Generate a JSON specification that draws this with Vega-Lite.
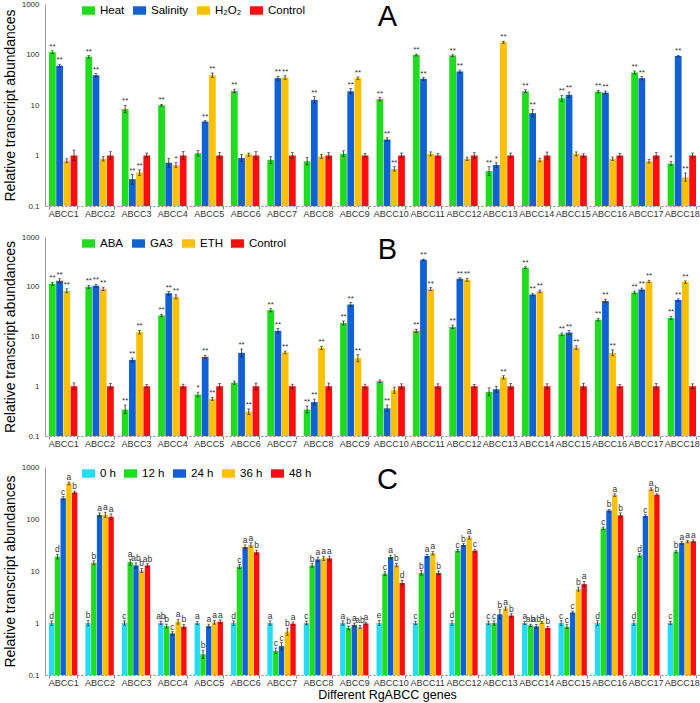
{
"$schema":"https://vega.github.io/schema/vega-lite/v6.json",
"padding":{"left":3,"top":0,"right":0,"bottom":2},
"config":{"view":{"stroke":null},"font":"Liberation Sans",
 "axisY":{"domainColor":"#999","ticks":false,"tickSize":0,"labelFontSize":8,"labelColor":"#333","labelPadding":6,"titleFontSize":14,"titleFontWeight":"normal","titleColor":"#000","titlePadding":4,"grid":false},
 "axisX":{"domainColor":"#888","domainDash":[2,2],"tickColor":"#888","tickSize":3,"tickBand":"extent","labelFontSize":9,"labelColor":"#333","labelPadding":0,"labelAngle":0,"titleFontSize":12.5,"titleFontWeight":"normal","titleColor":"#000","titlePadding":1},
 "legend":{"orient":"none","direction":"horizontal","legendX":37,"legendY":0,"title":null,"symbolType":"M-1,-0.65H1V0.65H-1Z","symbolSize":169,"symbolStrokeWidth":0,"labelFontSize":11.5,"labelColor":"#000","labelOffset":5,"columnPadding":8},
 "title":{"fontSize":29,"fontWeight":"normal","anchor":"middle","frame":"group","offset":-32,"dx":15,"color":"#000"}
},
"datasets":{
"A":[
{"g":"ABCC1","t":"Heat","v":111,"lo":104,"hi":118,"s":"**"},{"g":"ABCC1","t":"Salinity","v":60,"lo":56,"hi":64,"s":"**"},{"g":"ABCC1","t":"H₂O₂","v":0.79,"lo":0.72,"hi":0.86,"s":""},{"g":"ABCC1","t":"Control","v":1,"lo":0.78,"hi":1.28,"s":""},
{"g":"ABCC2","t":"Heat","v":90,"lo":85,"hi":95,"s":"**"},{"g":"ABCC2","t":"Salinity","v":39,"lo":36,"hi":42,"s":"**"},{"g":"ABCC2","t":"H₂O₂","v":0.86,"lo":0.78,"hi":0.95,"s":""},{"g":"ABCC2","t":"Control","v":1,"lo":0.84,"hi":1.19,"s":""},
{"g":"ABCC3","t":"Heat","v":8.3,"lo":7.0,"hi":9.8,"s":"**"},{"g":"ABCC3","t":"Salinity","v":0.34,"lo":0.27,"hi":0.42,"s":"**"},{"g":"ABCC3","t":"H₂O₂","v":0.46,"lo":0.4,"hi":0.52,"s":"**"},{"g":"ABCC3","t":"Control","v":1,"lo":0.9,"hi":1.12,"s":""},
{"g":"ABCC4","t":"Heat","v":9.9,"lo":9.5,"hi":10.3,"s":"**"},{"g":"ABCC4","t":"Salinity","v":0.72,"lo":0.58,"hi":0.88,"s":""},{"g":"ABCC4","t":"H₂O₂","v":0.65,"lo":0.58,"hi":0.72,"s":"*"},{"g":"ABCC4","t":"Control","v":1,"lo":0.83,"hi":1.2,"s":""},
{"g":"ABCC5","t":"Heat","v":1.11,"lo":0.98,"hi":1.25,"s":""},{"g":"ABCC5","t":"Salinity","v":4.7,"lo":4.5,"hi":4.9,"s":"**"},{"g":"ABCC5","t":"H₂O₂","v":39,"lo":35,"hi":43,"s":"**"},{"g":"ABCC5","t":"Control","v":1,"lo":0.88,"hi":1.14,"s":""},
{"g":"ABCC6","t":"Heat","v":19,"lo":17.5,"hi":20.5,"s":"**"},{"g":"ABCC6","t":"Salinity","v":0.89,"lo":0.76,"hi":1.04,"s":""},{"g":"ABCC6","t":"H₂O₂","v":1.05,"lo":0.97,"hi":1.12,"s":""},{"g":"ABCC6","t":"Control","v":1,"lo":0.84,"hi":1.19,"s":""},
{"g":"ABCC7","t":"Heat","v":0.82,"lo":0.69,"hi":0.96,"s":""},{"g":"ABCC7","t":"Salinity","v":34,"lo":31,"hi":37,"s":"**"},{"g":"ABCC7","t":"H₂O₂","v":35,"lo":32,"hi":38,"s":"**"},{"g":"ABCC7","t":"Control","v":1,"lo":0.88,"hi":1.14,"s":""},
{"g":"ABCC8","t":"Heat","v":0.77,"lo":0.65,"hi":0.91,"s":""},{"g":"ABCC8","t":"Salinity","v":12.6,"lo":10.8,"hi":14.7,"s":"**"},{"g":"ABCC8","t":"H₂O₂","v":0.96,"lo":0.88,"hi":1.05,"s":""},{"g":"ABCC8","t":"Control","v":1,"lo":0.88,"hi":1.14,"s":""},
{"g":"ABCC9","t":"Heat","v":1.08,"lo":0.95,"hi":1.24,"s":""},{"g":"ABCC9","t":"Salinity","v":18.7,"lo":16.5,"hi":21.2,"s":"**"},{"g":"ABCC9","t":"H₂O₂","v":34,"lo":32,"hi":36,"s":"**"},{"g":"ABCC9","t":"Control","v":1,"lo":0.92,"hi":1.09,"s":""},
{"g":"ABCC10","t":"Heat","v":13,"lo":12,"hi":14,"s":"**"},{"g":"ABCC10","t":"Salinity","v":2.07,"lo":1.9,"hi":2.25,"s":"**"},{"g":"ABCC10","t":"H₂O₂","v":0.54,"lo":0.49,"hi":0.6,"s":"**"},{"g":"ABCC10","t":"Control","v":1,"lo":0.9,"hi":1.12,"s":""},
{"g":"ABCC11","t":"Heat","v":98,"lo":94,"hi":102,"s":"**"},{"g":"ABCC11","t":"Salinity","v":33,"lo":31,"hi":35,"s":"**"},{"g":"ABCC11","t":"H₂O₂","v":1.08,"lo":0.98,"hi":1.18,"s":""},{"g":"ABCC11","t":"Control","v":1,"lo":0.92,"hi":1.09,"s":""},
{"g":"ABCC12","t":"Heat","v":95,"lo":91,"hi":99,"s":"**"},{"g":"ABCC12","t":"Salinity","v":46,"lo":43,"hi":49,"s":"**"},{"g":"ABCC12","t":"H₂O₂","v":0.86,"lo":0.8,"hi":0.93,"s":""},{"g":"ABCC12","t":"Control","v":1,"lo":0.88,"hi":1.14,"s":""},
{"g":"ABCC13","t":"Heat","v":0.49,"lo":0.4,"hi":0.6,"s":"**"},{"g":"ABCC13","t":"Salinity","v":0.65,"lo":0.58,"hi":0.72,"s":"*"},{"g":"ABCC13","t":"H₂O₂","v":175,"lo":167,"hi":183,"s":"**"},{"g":"ABCC13","t":"Control","v":1,"lo":0.9,"hi":1.12,"s":""},
{"g":"ABCC14","t":"Heat","v":18.7,"lo":17.5,"hi":20,"s":"**"},{"g":"ABCC14","t":"Salinity","v":6.9,"lo":5.8,"hi":8.2,"s":"**"},{"g":"ABCC14","t":"H₂O₂","v":0.81,"lo":0.75,"hi":0.88,"s":""},{"g":"ABCC14","t":"Control","v":1,"lo":0.85,"hi":1.17,"s":""},
{"g":"ABCC15","t":"Heat","v":13.6,"lo":11.8,"hi":15.6,"s":"**"},{"g":"ABCC15","t":"Salinity","v":15.9,"lo":14,"hi":18,"s":"**"},{"g":"ABCC15","t":"H₂O₂","v":1.08,"lo":0.98,"hi":1.18,"s":""},{"g":"ABCC15","t":"Control","v":1,"lo":0.93,"hi":1.08,"s":""},
{"g":"ABCC16","t":"Heat","v":18.4,"lo":17.4,"hi":19.4,"s":"**"},{"g":"ABCC16","t":"Salinity","v":17.6,"lo":16.4,"hi":18.9,"s":"**"},{"g":"ABCC16","t":"H₂O₂","v":0.86,"lo":0.8,"hi":0.93,"s":""},{"g":"ABCC16","t":"Control","v":1,"lo":0.92,"hi":1.09,"s":""},
{"g":"ABCC17","t":"Heat","v":44,"lo":41,"hi":47,"s":"**"},{"g":"ABCC17","t":"Salinity","v":34,"lo":31.5,"hi":36.5,"s":"**"},{"g":"ABCC17","t":"H₂O₂","v":0.77,"lo":0.71,"hi":0.84,"s":""},{"g":"ABCC17","t":"Control","v":1,"lo":0.88,"hi":1.14,"s":""},
{"g":"ABCC18","t":"Heat","v":0.69,"lo":0.63,"hi":0.76,"s":"*"},{"g":"ABCC18","t":"Salinity","v":93,"lo":90,"hi":96,"s":"**"},{"g":"ABCC18","t":"H₂O₂","v":0.37,"lo":0.31,"hi":0.45,"s":"**"},{"g":"ABCC18","t":"Control","v":1,"lo":0.9,"hi":1.12,"s":""}
],
"B":[
{"g":"ABCC1","t":"ABA","v":115,"lo":107,"hi":123,"s":"**"},{"g":"ABCC1","t":"GA3","v":132,"lo":120,"hi":145,"s":"**"},{"g":"ABCC1","t":"ETH","v":83,"lo":76,"hi":91,"s":"**"},{"g":"ABCC1","t":"Control","v":1,"lo":0.85,"hi":1.17,"s":""},
{"g":"ABCC2","t":"ABA","v":100,"lo":93,"hi":107,"s":"**"},{"g":"ABCC2","t":"GA3","v":105,"lo":98,"hi":112,"s":"**"},{"g":"ABCC2","t":"ETH","v":91,"lo":84,"hi":98,"s":"**"},{"g":"ABCC2","t":"Control","v":1,"lo":0.88,"hi":1.14,"s":""},
{"g":"ABCC3","t":"ABA","v":0.34,"lo":0.28,"hi":0.42,"s":"**"},{"g":"ABCC3","t":"GA3","v":3.4,"lo":3.1,"hi":3.7,"s":"**"},{"g":"ABCC3","t":"ETH","v":12.2,"lo":11.2,"hi":13.3,"s":"**"},{"g":"ABCC3","t":"Control","v":1,"lo":0.93,"hi":1.08,"s":""},
{"g":"ABCC4","t":"ABA","v":26.5,"lo":25,"hi":28,"s":"**"},{"g":"ABCC4","t":"GA3","v":74,"lo":68,"hi":80,"s":"**"},{"g":"ABCC4","t":"ETH","v":63,"lo":57,"hi":69,"s":"**"},{"g":"ABCC4","t":"Control","v":1,"lo":0.91,"hi":1.1,"s":""},
{"g":"ABCC5","t":"ABA","v":0.68,"lo":0.61,"hi":0.76,"s":"*"},{"g":"ABCC5","t":"GA3","v":3.9,"lo":3.6,"hi":4.2,"s":"**"},{"g":"ABCC5","t":"ETH","v":0.56,"lo":0.52,"hi":0.6,"s":"**"},{"g":"ABCC5","t":"Control","v":1,"lo":0.88,"hi":1.14,"s":""},
{"g":"ABCC6","t":"ABA","v":1.18,"lo":1.1,"hi":1.27,"s":""},{"g":"ABCC6","t":"GA3","v":4.7,"lo":3.9,"hi":5.6,"s":"**"},{"g":"ABCC6","t":"ETH","v":0.31,"lo":0.27,"hi":0.35,"s":"**"},{"g":"ABCC6","t":"Control","v":1,"lo":0.86,"hi":1.16,"s":""},
{"g":"ABCC7","t":"ABA","v":34,"lo":31.5,"hi":36.5,"s":"**"},{"g":"ABCC7","t":"GA3","v":13,"lo":11.7,"hi":14.4,"s":"**"},{"g":"ABCC7","t":"ETH","v":4.8,"lo":4.5,"hi":5.1,"s":"**"},{"g":"ABCC7","t":"Control","v":1,"lo":0.91,"hi":1.1,"s":""},
{"g":"ABCC8","t":"ABA","v":0.34,"lo":0.29,"hi":0.4,"s":"**"},{"g":"ABCC8","t":"GA3","v":0.48,"lo":0.42,"hi":0.55,"s":"**"},{"g":"ABCC8","t":"ETH","v":5.9,"lo":5.5,"hi":6.3,"s":"**"},{"g":"ABCC8","t":"Control","v":1,"lo":0.86,"hi":1.16,"s":""},
{"g":"ABCC9","t":"ABA","v":18.7,"lo":17,"hi":20.5,"s":"**"},{"g":"ABCC9","t":"GA3","v":44,"lo":40,"hi":48,"s":"**"},{"g":"ABCC9","t":"ETH","v":3.66,"lo":3.1,"hi":4.3,"s":"**"},{"g":"ABCC9","t":"Control","v":1,"lo":0.91,"hi":1.1,"s":""},
{"g":"ABCC10","t":"ABA","v":1.26,"lo":1.18,"hi":1.34,"s":""},{"g":"ABCC10","t":"GA3","v":0.36,"lo":0.31,"hi":0.42,"s":"**"},{"g":"ABCC10","t":"ETH","v":0.83,"lo":0.72,"hi":0.96,"s":""},{"g":"ABCC10","t":"Control","v":1,"lo":0.9,"hi":1.12,"s":""},
{"g":"ABCC11","t":"ABA","v":13,"lo":12,"hi":14,"s":"**"},{"g":"ABCC11","t":"GA3","v":349,"lo":338,"hi":360,"s":"**"},{"g":"ABCC11","t":"ETH","v":90,"lo":84,"hi":96,"s":"**"},{"g":"ABCC11","t":"Control","v":1,"lo":0.89,"hi":1.12,"s":""},
{"g":"ABCC12","t":"ABA","v":15.6,"lo":14.4,"hi":16.9,"s":"**"},{"g":"ABCC12","t":"GA3","v":144,"lo":136,"hi":152,"s":"**"},{"g":"ABCC12","t":"ETH","v":138,"lo":128,"hi":148,"s":"**"},{"g":"ABCC12","t":"Control","v":1,"lo":0.92,"hi":1.09,"s":""},
{"g":"ABCC13","t":"ABA","v":0.77,"lo":0.64,"hi":0.93,"s":""},{"g":"ABCC13","t":"GA3","v":0.87,"lo":0.76,"hi":1.0,"s":""},{"g":"ABCC13","t":"ETH","v":1.51,"lo":1.4,"hi":1.63,"s":"**"},{"g":"ABCC13","t":"Control","v":1,"lo":0.88,"hi":1.14,"s":""},
{"g":"ABCC14","t":"ABA","v":242,"lo":232,"hi":252,"s":"**"},{"g":"ABCC14","t":"GA3","v":70,"lo":66,"hi":74,"s":"**"},{"g":"ABCC14","t":"ETH","v":81,"lo":76,"hi":86,"s":"**"},{"g":"ABCC14","t":"Control","v":1,"lo":0.89,"hi":1.12,"s":""},
{"g":"ABCC15","t":"ABA","v":11.1,"lo":10.4,"hi":11.8,"s":"**"},{"g":"ABCC15","t":"GA3","v":12,"lo":10.9,"hi":13.2,"s":"**"},{"g":"ABCC15","t":"ETH","v":6.0,"lo":5.5,"hi":6.5,"s":"**"},{"g":"ABCC15","t":"Control","v":1,"lo":0.87,"hi":1.15,"s":""},
{"g":"ABCC16","t":"ABA","v":21.8,"lo":20.5,"hi":23.2,"s":"**"},{"g":"ABCC16","t":"GA3","v":52,"lo":48,"hi":56,"s":"**"},{"g":"ABCC16","t":"ETH","v":4.7,"lo":4.1,"hi":5.4,"s":"**"},{"g":"ABCC16","t":"Control","v":1,"lo":0.92,"hi":1.09,"s":""},
{"g":"ABCC17","t":"ABA","v":77,"lo":72,"hi":82,"s":"**"},{"g":"ABCC17","t":"GA3","v":88,"lo":82,"hi":94,"s":"**"},{"g":"ABCC17","t":"ETH","v":128,"lo":121,"hi":135,"s":"**"},{"g":"ABCC17","t":"Control","v":1,"lo":0.88,"hi":1.14,"s":""},
{"g":"ABCC18","t":"ABA","v":23.5,"lo":21.8,"hi":25.3,"s":"**"},{"g":"ABCC18","t":"GA3","v":54,"lo":51,"hi":57,"s":"**"},{"g":"ABCC18","t":"ETH","v":124,"lo":117,"hi":131,"s":"**"},{"g":"ABCC18","t":"Control","v":1,"lo":0.9,"hi":1.12,"s":""}
],
"C":[
{"g":"ABCC1","t":"0 h","v":1,"lo":0.9,"hi":1.1,"s":"d"},{"g":"ABCC1","t":"12 h","v":19,"lo":17,"hi":21,"s":"d"},{"g":"ABCC1","t":"24 h","v":252,"lo":235,"hi":270,"s":"c"},{"g":"ABCC1","t":"36 h","v":485,"lo":455,"hi":515,"s":"a"},{"g":"ABCC1","t":"48 h","v":325,"lo":305,"hi":345,"s":"b"},
{"g":"ABCC2","t":"0 h","v":1,"lo":0.88,"hi":1.13,"s":"b"},{"g":"ABCC2","t":"12 h","v":14.4,"lo":13.2,"hi":15.7,"s":"b"},{"g":"ABCC2","t":"24 h","v":120,"lo":110,"hi":131,"s":"a"},{"g":"ABCC2","t":"36 h","v":121,"lo":108,"hi":135,"s":"a"},{"g":"ABCC2","t":"48 h","v":111,"lo":98,"hi":125,"s":"a"},
{"g":"ABCC3","t":"0 h","v":1,"lo":0.91,"hi":1.1,"s":"c"},{"g":"ABCC3","t":"12 h","v":14.8,"lo":12.9,"hi":16.9,"s":"a"},{"g":"ABCC3","t":"24 h","v":12.8,"lo":11.4,"hi":14.3,"s":"ab"},{"g":"ABCC3","t":"36 h","v":10.2,"lo":9.3,"hi":11.2,"s":"b"},{"g":"ABCC3","t":"48 h","v":12.8,"lo":11.9,"hi":13.8,"s":"ab"},
{"g":"ABCC4","t":"0 h","v":1,"lo":0.93,"hi":1.08,"s":"ab"},{"g":"ABCC4","t":"12 h","v":0.87,"lo":0.8,"hi":0.95,"s":"b"},{"g":"ABCC4","t":"24 h","v":0.63,"lo":0.58,"hi":0.68,"s":"c"},{"g":"ABCC4","t":"36 h","v":1.06,"lo":0.95,"hi":1.18,"s":"a"},{"g":"ABCC4","t":"48 h","v":0.85,"lo":0.77,"hi":0.94,"s":"b"},
{"g":"ABCC5","t":"0 h","v":1,"lo":0.93,"hi":1.08,"s":"a"},{"g":"ABCC5","t":"12 h","v":0.25,"lo":0.21,"hi":0.3,"s":"b"},{"g":"ABCC5","t":"24 h","v":0.87,"lo":0.8,"hi":0.95,"s":"a"},{"g":"ABCC5","t":"36 h","v":1.03,"lo":0.95,"hi":1.12,"s":"a"},{"g":"ABCC5","t":"48 h","v":1.06,"lo":0.97,"hi":1.15,"s":"a"},
{"g":"ABCC6","t":"0 h","v":1,"lo":0.9,"hi":1.1,"s":"d"},{"g":"ABCC6","t":"12 h","v":12.2,"lo":11.2,"hi":13.3,"s":"c"},{"g":"ABCC6","t":"24 h","v":29,"lo":26.5,"hi":31.7,"s":"a"},{"g":"ABCC6","t":"36 h","v":31.7,"lo":28.6,"hi":35,"s":"a"},{"g":"ABCC6","t":"48 h","v":23,"lo":21,"hi":25.2,"s":"b"},
{"g":"ABCC7","t":"0 h","v":1,"lo":0.91,"hi":1.1,"s":"a"},{"g":"ABCC7","t":"12 h","v":0.29,"lo":0.26,"hi":0.33,"s":"c"},{"g":"ABCC7","t":"24 h","v":0.36,"lo":0.3,"hi":0.42,"s":"c"},{"g":"ABCC7","t":"36 h","v":0.68,"lo":0.58,"hi":0.8,"s":"b"},{"g":"ABCC7","t":"48 h","v":0.97,"lo":0.9,"hi":1.05,"s":"a"},
{"g":"ABCC8","t":"0 h","v":1,"lo":0.92,"hi":1.09,"s":"c"},{"g":"ABCC8","t":"12 h","v":12.8,"lo":11.8,"hi":13.9,"s":"b"},{"g":"ABCC8","t":"24 h","v":16.7,"lo":15,"hi":18.5,"s":"a"},{"g":"ABCC8","t":"36 h","v":17.5,"lo":16,"hi":19.1,"s":"a"},{"g":"ABCC8","t":"48 h","v":17.5,"lo":15.9,"hi":19.3,"s":"a"},
{"g":"ABCC9","t":"0 h","v":1,"lo":0.91,"hi":1.1,"s":"a"},{"g":"ABCC9","t":"12 h","v":0.8,"lo":0.74,"hi":0.87,"s":"b"},{"g":"ABCC9","t":"24 h","v":0.92,"lo":0.85,"hi":1.0,"s":"a"},{"g":"ABCC9","t":"36 h","v":0.84,"lo":0.79,"hi":0.9,"s":"ab"},{"g":"ABCC9","t":"48 h","v":0.98,"lo":0.92,"hi":1.04,"s":"a"},
{"g":"ABCC10","t":"0 h","v":1,"lo":0.9,"hi":1.12,"s":"e"},{"g":"ABCC10","t":"12 h","v":8.9,"lo":8.2,"hi":9.7,"s":"c"},{"g":"ABCC10","t":"24 h","v":18.6,"lo":17.2,"hi":20.1,"s":"a"},{"g":"ABCC10","t":"36 h","v":13,"lo":12,"hi":14,"s":"b"},{"g":"ABCC10","t":"48 h","v":5.9,"lo":5.3,"hi":6.6,"s":"d"},
{"g":"ABCC11","t":"0 h","v":1,"lo":0.93,"hi":1.08,"s":"c"},{"g":"ABCC11","t":"12 h","v":9.2,"lo":8.3,"hi":10.2,"s":"b"},{"g":"ABCC11","t":"24 h","v":19.4,"lo":17.9,"hi":21,"s":"a"},{"g":"ABCC11","t":"36 h","v":22,"lo":20.3,"hi":23.8,"s":"a"},{"g":"ABCC11","t":"48 h","v":9.2,"lo":8.5,"hi":10,"s":"b"},
{"g":"ABCC12","t":"0 h","v":1,"lo":0.9,"hi":1.12,"s":"d"},{"g":"ABCC12","t":"12 h","v":24.6,"lo":23.4,"hi":25.9,"s":"c"},{"g":"ABCC12","t":"24 h","v":31.7,"lo":30,"hi":33.5,"s":"b"},{"g":"ABCC12","t":"36 h","v":44,"lo":41,"hi":47,"s":"a"},{"g":"ABCC12","t":"48 h","v":24.6,"lo":23,"hi":26.3,"s":"c"},
{"g":"ABCC13","t":"0 h","v":1,"lo":0.92,"hi":1.09,"s":"c"},{"g":"ABCC13","t":"12 h","v":1,"lo":0.91,"hi":1.1,"s":"c"},{"g":"ABCC13","t":"24 h","v":1.47,"lo":1.2,"hi":1.8,"s":"b"},{"g":"ABCC13","t":"36 h","v":1.9,"lo":1.77,"hi":2.04,"s":"a"},{"g":"ABCC13","t":"48 h","v":1.39,"lo":1.28,"hi":1.51,"s":"b"},
{"g":"ABCC14","t":"0 h","v":1,"lo":0.94,"hi":1.07,"s":"a"},{"g":"ABCC14","t":"12 h","v":0.9,"lo":0.85,"hi":0.95,"s":"ab"},{"g":"ABCC14","t":"24 h","v":0.86,"lo":0.79,"hi":0.94,"s":"ab"},{"g":"ABCC14","t":"36 h","v":1.03,"lo":0.98,"hi":1.08,"s":"a"},{"g":"ABCC14","t":"48 h","v":0.8,"lo":0.75,"hi":0.86,"s":"b"},
{"g":"ABCC15","t":"0 h","v":1,"lo":0.9,"hi":1.11,"s":"c"},{"g":"ABCC15","t":"12 h","v":0.85,"lo":0.78,"hi":0.93,"s":"c"},{"g":"ABCC15","t":"24 h","v":1.59,"lo":1.5,"hi":1.7,"s":"c"},{"g":"ABCC15","t":"36 h","v":4.5,"lo":4.1,"hi":4.9,"s":"b"},{"g":"ABCC15","t":"48 h","v":5.6,"lo":5.0,"hi":6.3,"s":"a"},
{"g":"ABCC16","t":"0 h","v":1,"lo":0.9,"hi":1.11,"s":"d"},{"g":"ABCC16","t":"12 h","v":66,"lo":62,"hi":70,"s":"c"},{"g":"ABCC16","t":"24 h","v":145,"lo":137,"hi":153,"s":"b"},{"g":"ABCC16","t":"36 h","v":288,"lo":272,"hi":305,"s":"a"},{"g":"ABCC16","t":"48 h","v":118,"lo":106,"hi":131,"s":"b"},
{"g":"ABCC17","t":"0 h","v":1,"lo":0.9,"hi":1.11,"s":"d"},{"g":"ABCC17","t":"12 h","v":20,"lo":18.5,"hi":21.6,"s":"d"},{"g":"ABCC17","t":"24 h","v":114,"lo":107,"hi":121,"s":"c"},{"g":"ABCC17","t":"36 h","v":377,"lo":356,"hi":398,"s":"a"},{"g":"ABCC17","t":"48 h","v":292,"lo":278,"hi":306,"s":"b"},
{"g":"ABCC18","t":"0 h","v":1,"lo":0.93,"hi":1.08,"s":"c"},{"g":"ABCC18","t":"12 h","v":23.6,"lo":22.2,"hi":25.1,"s":"b"},{"g":"ABCC18","t":"24 h","v":34.7,"lo":32.8,"hi":36.7,"s":"a"},{"g":"ABCC18","t":"36 h","v":36.8,"lo":34.8,"hi":38.9,"s":"a"},{"g":"ABCC18","t":"48 h","v":37.4,"lo":35.3,"hi":39.6,"s":"a"}
]
},
"bounds":"flush",
"spacing":31,
"resolve":{"scale":{"color":"independent","xOffset":"independent"},"legend":{"color":"independent"}},
"vconcat":[
 {"width":655,"height":202,"data":{"name":"A"},"title":{"text":"A"},
  "encoding":{
   "x":{"field":"g","type":"nominal","sort":["ABCC1","ABCC2","ABCC3","ABCC4","ABCC5","ABCC6","ABCC7","ABCC8","ABCC9","ABCC10","ABCC11","ABCC12","ABCC13","ABCC14","ABCC15","ABCC16","ABCC17","ABCC18"],"scale":{"paddingInner":0.22,"paddingOuter":0.11},"axis":{"title":null}},
   "xOffset":{"field":"t","type":"nominal","sort":["Heat","Salinity","H₂O₂","Control"],"scale":{"paddingInner":0.06}}
  },
  "layer":[
   {"mark":{"type":"bar"},"encoding":{"y":{"field":"v","type":"quantitative","stack":null,"scale":{"type":"log","domain":[0.1,1000]},"title":"Relative transcript abundances","axis":{"values":[0.1,1,10,100,1000],"format":"~g"}},"y2":{"datum":0.1},"color":{"field":"t","type":"nominal","sort":["Heat","Salinity","H₂O₂","Control"],"scale":{"domain":["Heat","Salinity","H₂O₂","Control"],"range":["#1fdc1f","#1060d6","#ffc000","#ff0d0d"]}}}},
   {"mark":{"type":"rule","color":"#222","strokeWidth":0.8},"encoding":{"y":{"field":"lo","type":"quantitative","title":"Relative transcript abundances"},"y2":{"field":"hi"}}},
   {"mark":{"type":"tick","color":"#222","size":3,"thickness":0.8},"encoding":{"y":{"field":"lo","type":"quantitative","title":"Relative transcript abundances"}}},
   {"mark":{"type":"tick","color":"#222","size":3,"thickness":0.8},"encoding":{"y":{"field":"hi","type":"quantitative","title":"Relative transcript abundances"}}},
   {"mark":{"type":"text","fontSize":8,"baseline":"bottom","dy":0,"color":"#333"},"encoding":{"y":{"field":"hi","type":"quantitative","title":"Relative transcript abundances"},"text":{"field":"s"}}}
  ]},
 {"width":655,"height":199,"data":{"name":"B"},"title":{"text":"B"},
  "encoding":{
   "x":{"field":"g","type":"nominal","sort":["ABCC1","ABCC2","ABCC3","ABCC4","ABCC5","ABCC6","ABCC7","ABCC8","ABCC9","ABCC10","ABCC11","ABCC12","ABCC13","ABCC14","ABCC15","ABCC16","ABCC17","ABCC18"],"scale":{"paddingInner":0.22,"paddingOuter":0.11},"axis":{"title":null}},
   "xOffset":{"field":"t","type":"nominal","sort":["ABA","GA3","ETH","Control"],"scale":{"paddingInner":0.06}}
  },
  "layer":[
   {"mark":{"type":"bar"},"encoding":{"y":{"field":"v","type":"quantitative","stack":null,"scale":{"type":"log","domain":[0.1,1000]},"title":"Relative transcript abundances","axis":{"values":[0.1,1,10,100,1000],"format":"~g"}},"y2":{"datum":0.1},"color":{"field":"t","type":"nominal","sort":["ABA","GA3","ETH","Control"],"scale":{"domain":["ABA","GA3","ETH","Control"],"range":["#1fdc1f","#1060d6","#ffc000","#ff0d0d"]}}}},
   {"mark":{"type":"rule","color":"#222","strokeWidth":0.8},"encoding":{"y":{"field":"lo","type":"quantitative","title":"Relative transcript abundances"},"y2":{"field":"hi"}}},
   {"mark":{"type":"tick","color":"#222","size":3,"thickness":0.8},"encoding":{"y":{"field":"lo","type":"quantitative","title":"Relative transcript abundances"}}},
   {"mark":{"type":"tick","color":"#222","size":3,"thickness":0.8},"encoding":{"y":{"field":"hi","type":"quantitative","title":"Relative transcript abundances"}}},
   {"mark":{"type":"text","fontSize":8,"baseline":"bottom","dy":0,"color":"#333"},"encoding":{"y":{"field":"hi","type":"quantitative","title":"Relative transcript abundances"},"text":{"field":"s"}}}
  ]},
 {"width":655,"height":208,"data":{"name":"C"},"title":{"text":"C"},
  "encoding":{
   "x":{"field":"g","type":"nominal","sort":["ABCC1","ABCC2","ABCC3","ABCC4","ABCC5","ABCC6","ABCC7","ABCC8","ABCC9","ABCC10","ABCC11","ABCC12","ABCC13","ABCC14","ABCC15","ABCC16","ABCC17","ABCC18"],"scale":{"paddingInner":0.22,"paddingOuter":0.11},"axis":{"title":"Different RgABCC genes","titleX":342}},
   "xOffset":{"field":"t","type":"nominal","sort":["0 h","12 h","24 h","36 h","48 h"],"scale":{"paddingInner":0.06}}
  },
  "layer":[
   {"mark":{"type":"bar"},"encoding":{"y":{"field":"v","type":"quantitative","stack":null,"scale":{"type":"log","domain":[0.1,1000]},"title":"Relative transcript abundances","axis":{"values":[0.1,1,10,100,1000],"format":"~g"}},"y2":{"datum":0.1},"color":{"field":"t","type":"nominal","sort":["0 h","12 h","24 h","36 h","48 h"],"scale":{"domain":["0 h","12 h","24 h","36 h","48 h"],"range":["#25dcf8","#1fdc1f","#1060d6","#ffc000","#ff0d0d"]}}}},
   {"mark":{"type":"rule","color":"#222","strokeWidth":0.8},"encoding":{"y":{"field":"lo","type":"quantitative","title":"Relative transcript abundances"},"y2":{"field":"hi"}}},
   {"mark":{"type":"tick","color":"#222","size":3,"thickness":0.8},"encoding":{"y":{"field":"lo","type":"quantitative","title":"Relative transcript abundances"}}},
   {"mark":{"type":"tick","color":"#222","size":3,"thickness":0.8},"encoding":{"y":{"field":"hi","type":"quantitative","title":"Relative transcript abundances"}}},
   {"mark":{"type":"text","fontSize":8.5,"baseline":"bottom","dy":0,"color":"#333"},"encoding":{"y":{"field":"hi","type":"quantitative","title":"Relative transcript abundances"},"text":{"field":"s"}}}
  ]}
]
}
